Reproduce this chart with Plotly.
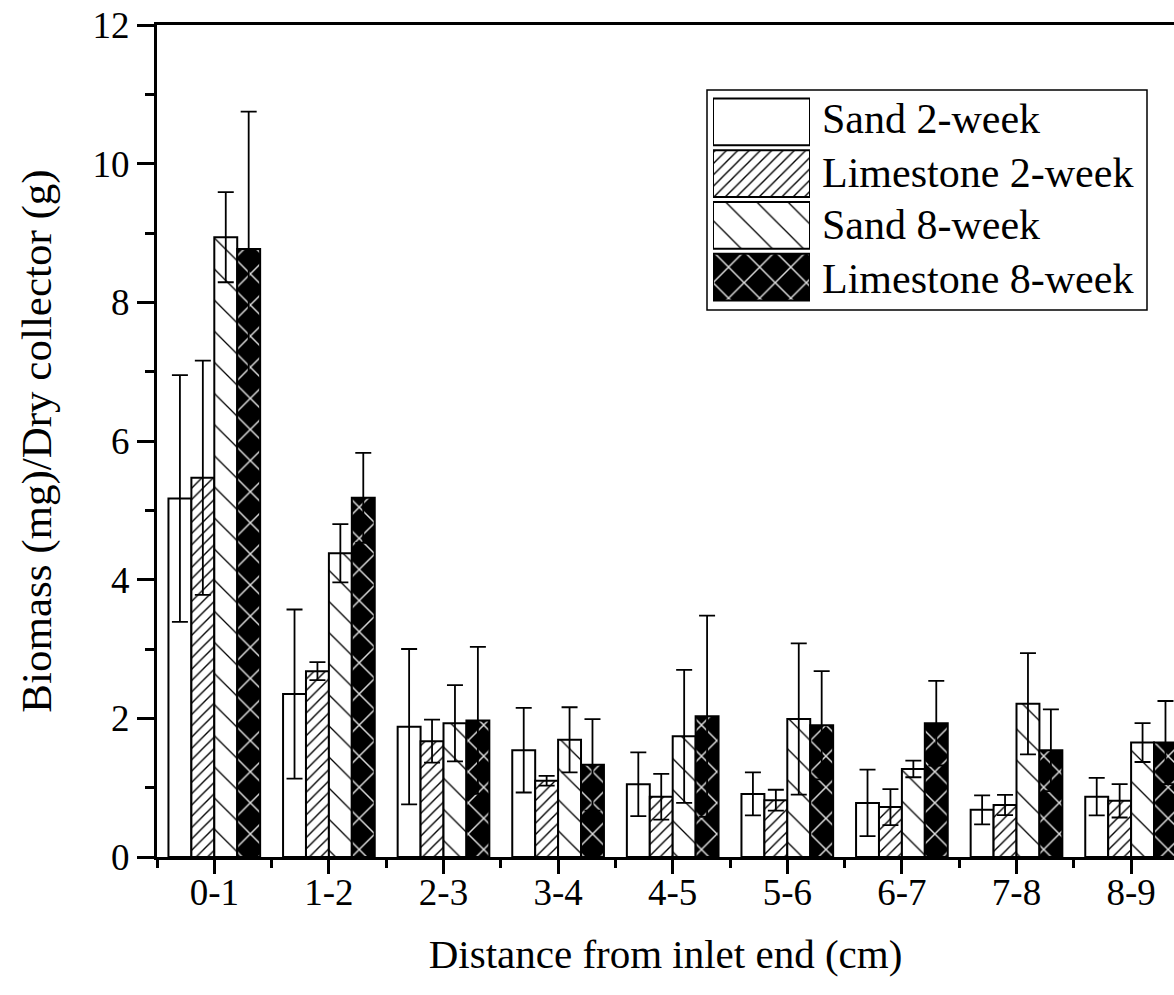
import plotly.graph_objects as go

categories = ["0-1", "1-2", "2-3", "3-4", "4-5", "5-6", "6-7", "7-8", "8-9"]
series_names = ["Sand 2-week", "Limestone 2-week", "Sand 8-week", "Limestone 8-week"]

sand2 = [5.17, 2.35, 1.88, 1.54, 1.05, 0.91, 0.78, 0.68, 0.87]
sand2_err = [1.78, 1.22, 1.12, 0.61, 0.46, 0.31, 0.48, 0.21, 0.27]
lime2 = [5.47, 2.68, 1.67, 1.10, 0.87, 0.82, 0.72, 0.75, 0.81]
lime2_err = [1.69, 0.13, 0.31, 0.07, 0.33, 0.15, 0.26, 0.145, 0.24]
sand8 = [8.94, 4.38, 1.93, 1.69, 1.74, 1.99, 1.27, 2.21, 1.65]
sand8_err = [0.65, 0.42, 0.55, 0.47, 0.96, 1.09, 0.12, 0.73, 0.28]
lime8 = [8.77, 5.18, 1.97, 1.33, 2.03, 1.90, 1.93, 1.54, 1.65]
lime8_err = [1.98, 0.65, 1.06, 0.66, 1.45, 0.78, 0.61, 0.59, 0.60]

values = [sand2, lime2, sand8, lime8]
errors = [sand2_err, lime2_err, sand8_err, lime8_err]

styles = [
    dict(color="white", shape="", fg="black", bg="white", size=8, solidity=0.15),
    dict(color="white", shape="/", fg="black", bg="white", size=8, solidity=0.17),
    dict(color="white", shape="\\", fg="black", bg="white", size=22, solidity=0.06),
    dict(color="black", shape="x", fg="#dddddd", bg="black", size=22, solidity=0.13),
]

FONT = "Liberation Serif"
W, H = 1174, 995
L, T, B = 157, 25, 138
plot_w = W - L
plot_h = H - T - B
px_per_cat = 114.6
x_max = -0.5 + plot_w / px_per_cat

xpos = list(range(len(categories)))


def marker_for(st):
    return dict(
        color=st["color"],
        line=dict(color="black", width=2),
        pattern=dict(shape=st["shape"], fgcolor=st["fg"], bgcolor=st["bg"],
                     size=st["size"], solidity=st["solidity"], fillmode="replace"),
    )


fig = go.Figure()
for name, vals, errs, st in zip(series_names, values, errors, styles):
    fig.add_trace(go.Bar(
        x=xpos, y=vals, name=name, showlegend=False,
        marker=marker_for(st),
        error_y=dict(type="data", array=errs, visible=True, color="black",
                     thickness=1.8, width=8),
    ))

# custom legend swatches drawn as bars on a hidden inset axis
for i, (name, st) in enumerate(zip(series_names, styles)):
    fig.add_trace(go.Bar(
        x=[1], y=[i], base=0, orientation="h", width=0.9, offset=-0.45,
        xaxis="x2", yaxis="y2", showlegend=False, hoverinfo="skip", name=name,
        marker=marker_for(st),
    ))


def px_x(p):
    return (p - L) / plot_w


def px_y(p):
    return (T + plot_h - p) / plot_h


row_centers = [119.5, 172.5, 225.5, 279]
annotations = []
for name, yc in zip(series_names, row_centers):
    annotations.append(dict(
        xref="paper", yref="paper", x=px_x(820), y=px_y(yc), text=name, showarrow=False,
        xanchor="left", yanchor="middle",
        font=dict(family=FONT, size=42, color="black"),
    ))

fig.update_layout(
    width=W, height=H,
    margin=dict(l=L, r=0, t=T, b=B, pad=0),
    paper_bgcolor="white", plot_bgcolor="white",
    barmode="group", bargap=0.2, bargroupgap=0,
    font=dict(family=FONT, color="black"),
    xaxis=dict(
        range=[-0.5, x_max], tickvals=xpos, ticktext=categories,
        showgrid=False, zeroline=False,
        showline=True, linecolor="black", linewidth=3, mirror=True,
        ticks="outside", ticklen=14, tickwidth=2.5, tickcolor="black",
        minor=dict(tick0=0.5, dtick=1, ticks="outside", ticklen=8, tickwidth=2.5, tickcolor="black"),
        tickfont=dict(family=FONT, size=37, color="black"),
        ticklabelstandoff=-13,
        title=dict(text="Distance from inlet end (cm)", standoff=27,
                   font=dict(family=FONT, size=41, color="black")),
    ),
    yaxis=dict(
        range=[0, 12], dtick=2, tick0=0,
        showgrid=False, zeroline=False,
        showline=True, linecolor="black", linewidth=3, mirror=False,
        ticks="outside", ticklen=17, tickwidth=2.5, tickcolor="black",
        minor=dict(dtick=1, ticks="outside", ticklen=9, tickwidth=2.5, tickcolor="black"),
        tickfont=dict(family=FONT, size=37, color="black"),
        title=dict(text="Biomass (mg)/Dry collector (g)", standoff=28,
                   font=dict(family=FONT, size=43, color="black")),
    ),
    xaxis2=dict(domain=[px_x(713), px_x(810)], range=[0, 1], anchor="y2",
                visible=False, fixedrange=True),
    yaxis2=dict(domain=[px_y(303), px_y(96)], range=[3.5, -0.5], anchor="x2",
                visible=False, fixedrange=True),
    shapes=[dict(type="rect", xref="paper", yref="paper",
                 x0=px_x(707), x1=px_x(1147), y0=px_y(310), y1=px_y(90),
                 line=dict(color="black", width=1.5), fillcolor="rgba(0,0,0,0)")],
    annotations=annotations,
)

fig.write_html("out.html")
